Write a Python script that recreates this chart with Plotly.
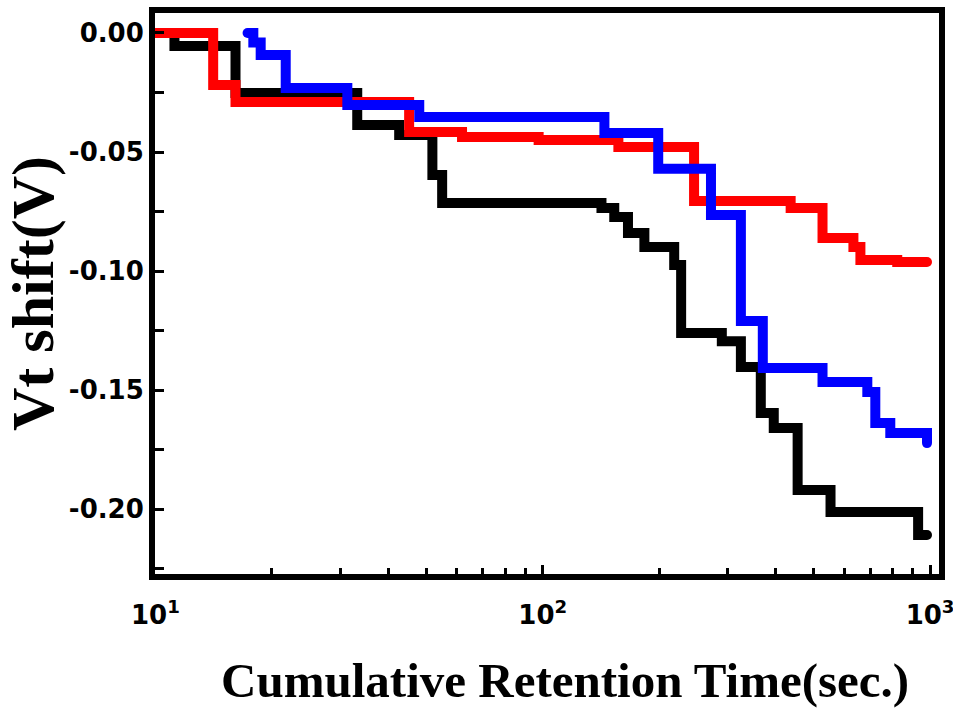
import plotly.graph_objects as go

# Cumulative retention time (s) and threshold-voltage shift (V) for three samples.
# Each series is a step curve: a value holds until the next time stamp.
black_t = [10, 11.2, 16.1, 33.2, 42.6, 51.9, 55.0, 141.8, 153, 166, 183, 218.5,
           227.7, 290, 324.8, 365.6, 394.9, 455.1, 553.4, 931.5, 982]
black_v = [0, -0.0055, -0.0252, -0.0387, -0.0429, -0.0597, -0.0714, -0.0735,
           -0.0773, -0.0840, -0.0899, -0.0975, -0.1260, -0.1295, -0.1403,
           -0.1597, -0.1660, -0.1920, -0.2013, -0.2109, -0.2109]

blue_t = [17.3, 17.9, 18.7, 21.7, 31.3, 48.0, 144.3, 198.7, 271.9, 324.8, 370,
          527.7, 688.7, 722.2, 789.5, 982]
blue_v = [0, -0.0040, -0.0092, -0.0231, -0.0303, -0.0353, -0.0420, -0.0570,
          -0.0765, -0.1210, -0.1408, -0.1466, -0.1508, -0.1639, -0.1681, -0.1723]

red_t = [10, 14.1, 16.1, 45.2, 61.9, 97.6, 156.8, 245.9, 436.6, 527.7, 634.1,
         661, 822.8, 982]
red_v = [0, -0.0218, -0.0290, -0.0416, -0.0437, -0.0450, -0.0479, -0.0706,
         -0.0735, -0.0861, -0.0899, -0.0954, -0.0962, -0.0962]

y_tick_vals = [0, -0.05, -0.10, -0.15, -0.20]
y_tick_text = ["0.00", "-0.05", "-0.10", "-0.15", "-0.20"]
y_minor_vals = [-0.025, -0.075, -0.125, -0.175, -0.225]
x_tick_vals = [10, 100, 1000]
x_tick_text = ["10<sup>1</sup>", "10<sup>2</sup>", "10<sup>3</sup>"]
x_minor_vals = [m * d for d in (10, 100) for m in range(2, 10)]

LW = 10


def step_trace(t, v, color):
    # round dots at both ends give the curve rounded caps
    sizes = [LW] + [0] * (len(t) - 2) + [LW]
    return go.Scatter(
        x=t, y=v, mode="lines+markers", line=dict(color=color, width=LW, shape="hv"),
        marker=dict(size=sizes, color=color, opacity=1, line=dict(width=0)),
        showlegend=False, hoverinfo="skip",
    )


fig = go.Figure()
fig.add_trace(step_trace(black_t, black_v, "#000000"))
fig.add_trace(step_trace(red_t, red_v, "#ff0000"))
fig.add_trace(step_trace(blue_t, blue_v, "#0000ff"))

title_font = dict(family="Liberation Serif", color="black", weight="bold")

fig.update_layout(
    width=953, height=708,
    margin=dict(l=155, r=14, t=13, b=134),
    paper_bgcolor="white", plot_bgcolor="white",
    xaxis=dict(
        type="log", range=[0.999, 3.0231], automargin=False,
        showgrid=False, zeroline=False,
        showline=True, linecolor="black", linewidth=6, mirror=True,
        ticks="inside", ticklen=9, tickwidth=3, tickcolor="black",
        tickvals=x_tick_vals, ticktext=x_tick_text,
        tickfont=dict(family="DejaVu Sans", size=26, color="black", weight="bold"),
        ticklabelstandoff=13, ticklabeloverflow="allow",
        minor=dict(tickvals=x_minor_vals, ticks="inside", ticklen=6,
                   tickwidth=3, tickcolor="black"),
    ),
    yaxis=dict(
        range=[-0.2273, 0.0084], automargin=False,
        showgrid=False, zeroline=False,
        showline=True, linecolor="black", linewidth=6, mirror=True,
        ticks="inside", ticklen=9, tickwidth=3, tickcolor="black",
        tickvals=y_tick_vals, ticktext=y_tick_text,
        tickfont=dict(family="DejaVu Sans", size=26, color="black", weight="bold"),
        minor=dict(tickvals=y_minor_vals, ticks="inside", ticklen=9,
                   tickwidth=3, tickcolor="black"),
        title=dict(text="Vt shift(V)", font=dict(size=60, **title_font), standoff=12),
    ),
    annotations=[dict(
        text="Cumulative Retention Time(sec.)", showarrow=False,
        xref="paper", yref="paper", x=0.523, y=-0.189,
        xanchor="center", yanchor="middle",
        font=dict(size=49, **title_font),
    )],
)

fig.write_html("out.html")
